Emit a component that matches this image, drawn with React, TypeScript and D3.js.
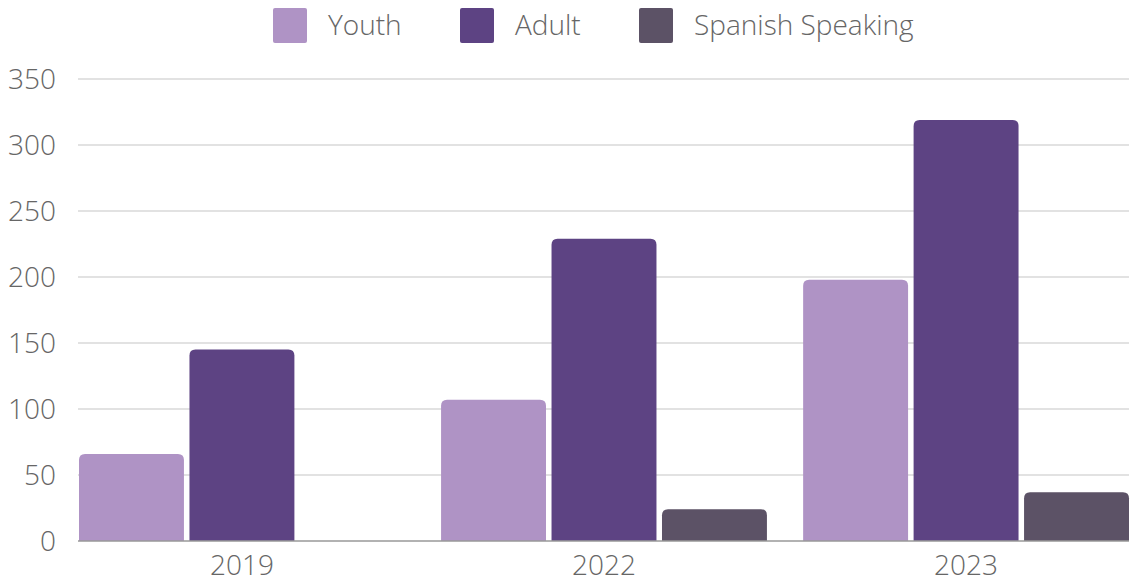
import React, { useEffect, useRef } from 'react';
import * as d3 from 'd3';

const years = ['2019', '2022', '2023'];
const seriesNames = ['Youth', 'Adult', 'Spanish Speaking'];
const youth = [66, 107, 198];
const adult = [145, 229, 319];
const spanish = [0, 24, 37];
const yTicks = [0, 50, 100, 150, 200, 250, 300, 350];
const colors = ['#AF93C5', '#5D4383', '#5C5266'];

const FONT = '"Open Sans", "DejaVu Sans", sans-serif';

// path for a bar with rounded top corners only
const topRounded = (x: number, y: number, w: number, h: number, r: number) => {
  if (h <= 0) return '';
  const rr = Math.min(r, h, w / 2);
  return `M${x},${y + h}V${y + rr}Q${x},${y} ${x + rr},${y}H${x + w - rr}Q${x + w},${y} ${x + w},${y + rr}V${y + h}Z`;
};

const App = () => {
  const svgRef = useRef<SVGSVGElement>(null);

  useEffect(() => {
    const width = 1134;
    const height = 582;
    const margin = { top: 79, right: 5, bottom: 41, left: 79 };

    const svg = d3.select(svgRef.current);
    svg.selectAll('*').remove();
    svg.attr('width', width).attr('height', height);

    const values = [youth, adult, spanish];

    const x0 = d3.scaleBand<string>()
      .domain(years)
      .range([margin.left, width - margin.right])
      .paddingInner(0.1)
      .paddingOuter(0);

    const x1 = d3.scaleBand<string>()
      .domain(seriesNames)
      .range([0, x0.bandwidth()])
      .paddingInner(0.05);

    const y = d3.scaleLinear()
      .domain([0, 350])
      .range([height - margin.bottom, margin.top]);

    // gridlines
    svg.append('g')
      .selectAll('line')
      .data(yTicks.filter(t => t !== 0))
      .join('line')
      .attr('x1', margin.left - 1)
      .attr('x2', width - margin.right)
      .attr('y1', d => y(d))
      .attr('y2', d => y(d))
      .attr('stroke', '#d9d9d9')
      .attr('stroke-width', 1.5);

    // y labels
    svg.append('g')
      .selectAll('text')
      .data(yTicks)
      .join('text')
      .attr('x', 56)
      .attr('y', d => y(d))
      .attr('dy', '0.35em')
      .attr('text-anchor', 'end')
      .style('font-family', FONT)
      .style('font-weight', 300)
      .style('font-size', '28px')
      .style('fill', '#666')
      .text(d => d);

    // bars
    const groups = svg.append('g')
      .selectAll('g')
      .data(years)
      .join('g')
      .attr('transform', d => `translate(${x0(d)},0)`);

    groups.selectAll('path')
      .data((_, i) => seriesNames.map((s, k) => ({ s, k, v: values[k][i] })))
      .join('path')
      .attr('d', d => topRounded(x1(d.s)!, y(d.v), x1.bandwidth(), y(0) - y(d.v), 6))
      .attr('fill', d => colors[d.k]);

    // baseline
    svg.append('line')
      .attr('x1', margin.left - 1)
      .attr('x2', width - margin.right)
      .attr('y1', y(0))
      .attr('y2', y(0))
      .attr('stroke', '#999')
      .attr('stroke-width', 1.5);

    // x labels
    svg.append('g')
      .selectAll('text')
      .data(years)
      .join('text')
      .attr('x', d => x0(d)! + x0.bandwidth() / 2)
      .attr('y', 565)
      .attr('dy', '0.35em')
      .attr('text-anchor', 'middle')
      .style('font-family', FONT)
      .style('font-weight', 300)
      .style('font-size', '28px')
      .style('fill', '#666')
      .text(d => d);

    // legend
    const legendX = [273, 460, 639];
    const legend = svg.append('g')
      .selectAll('g')
      .data(seriesNames)
      .join('g')
      .attr('transform', (_, i) => `translate(${legendX[i]},8)`);

    legend.append('rect')
      .attr('width', 34)
      .attr('height', 35)
      .attr('rx', 2)
      .attr('fill', (_, i) => colors[i]);

    legend.append('text')
      .attr('x', 55)
      .attr('y', 17.5)
      .attr('dy', '0.35em')
      .style('font-family', FONT)
      .style('font-weight', 300)
      .style('font-size', '28px')
      .style('fill', '#666')
      .text(d => d);
  }, []);

  return (
    <svg ref={svgRef} style={{ position: 'absolute', top: 0, left: 0, display: 'block' }}></svg>
  );
};

export default App;
